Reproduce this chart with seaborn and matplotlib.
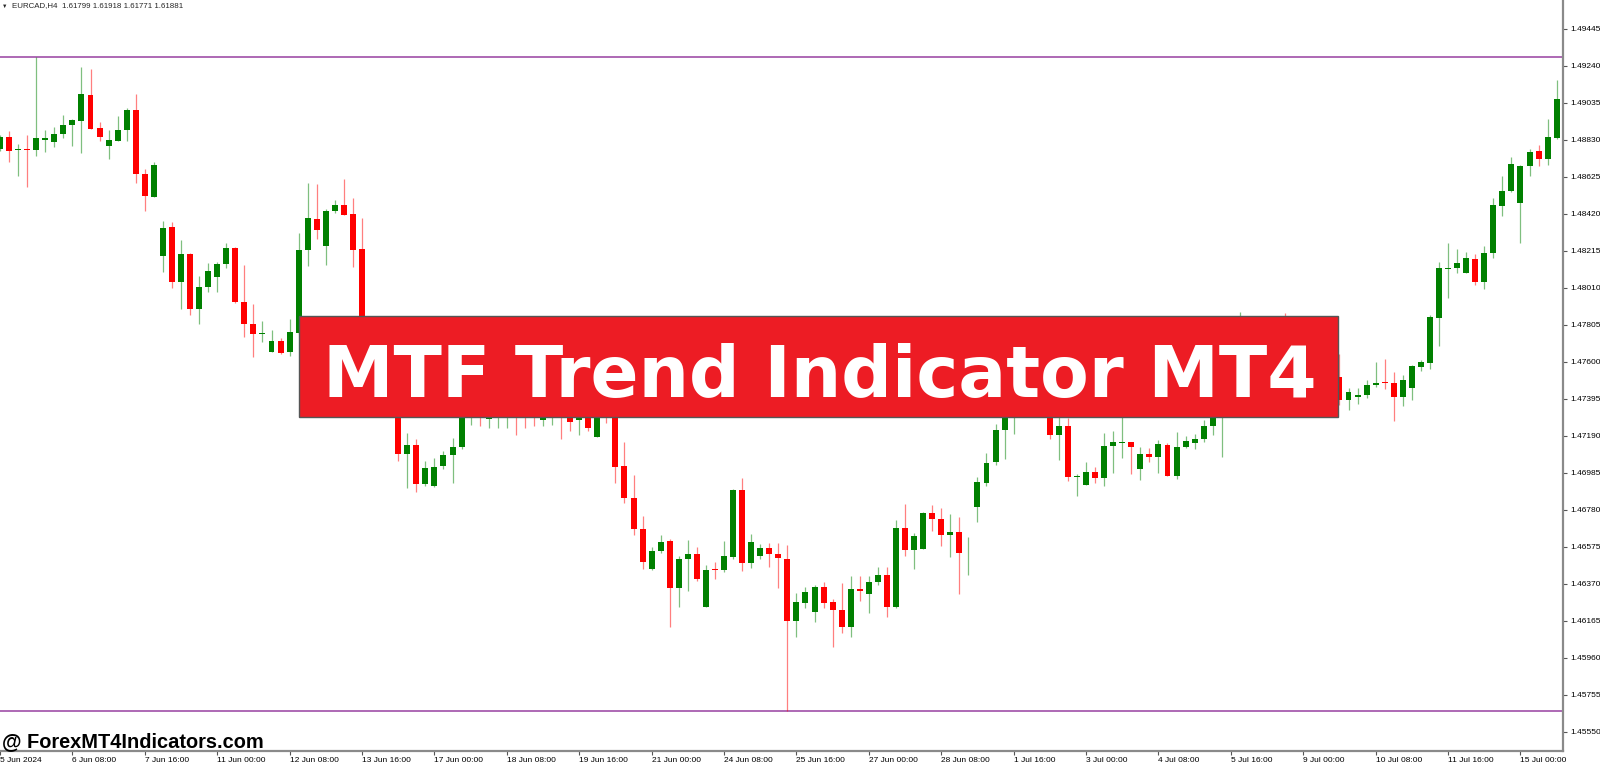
import numpy as np
import seaborn as sns
import matplotlib.pyplot as plt
from matplotlib.patches import Rectangle

# EURCAD H4, 5 Jun 2024 - 15 Jul 2024
opens = [
    1.48779, 1.48844, 1.48772, 1.48779, 1.48776, 1.48831, 1.48820, 1.48863, 1.48911, 1.48936,
    1.49077, 1.48894, 1.48798, 1.48825, 1.48883, 1.48994, 1.48643, 1.48515, 1.48187, 1.48346,
    1.48044, 1.48198, 1.47895, 1.48013, 1.48070, 1.48141, 1.48229, 1.47933, 1.47811, 1.47753,
    1.47656, 1.47716, 1.47653, 1.47762, 1.48220, 1.48392, 1.48244, 1.48434, 1.48467, 1.48418,
    1.48227, 1.47666, 1.47472, 1.47583, 1.47389, 1.47088, 1.47138, 1.46922, 1.46912, 1.47021,
    1.47086, 1.47127, 1.47322, 1.47389, 1.47283, 1.47289, 1.47333, 1.47411, 1.47389, 1.47361,
    1.47278, 1.47322, 1.47400, 1.47378, 1.47278, 1.47361, 1.47185, 1.47378, 1.47322, 1.47023,
    1.46846, 1.46674, 1.46451, 1.46552, 1.46606, 1.46347, 1.46508, 1.46537, 1.46243, 1.46452,
    1.46447, 1.46520, 1.46890, 1.46484, 1.46524, 1.46569, 1.46537, 1.46509, 1.46166, 1.46265,
    1.46216, 1.46351, 1.46268, 1.46225, 1.46131, 1.46341, 1.46312, 1.46378, 1.46421, 1.46240,
    1.46681, 1.46557, 1.46565, 1.46761, 1.46729, 1.46642, 1.46657, 1.46539, 1.46796, 1.46930,
    1.47045, 1.47222, 1.47287, 1.47400, 1.47472, 1.47416, 1.47344, 1.47195, 1.47245, 1.46964,
    1.46919, 1.46988, 1.46955, 1.47135, 1.47151, 1.47154, 1.47008, 1.47088, 1.47071, 1.47139,
    1.46969, 1.47127, 1.47152, 1.47171, 1.47246, 1.47322, 1.47389, 1.47433, 1.47583, 1.47499,
    1.47610, 1.47544, 1.47666, 1.47583, 1.47511, 1.47610, 1.47544, 1.47599, 1.47516, 1.47389,
    1.47407, 1.47415, 1.47472, 1.47485, 1.47485, 1.47404, 1.47453, 1.47573, 1.47595, 1.47845,
    1.48117, 1.48120, 1.48092, 1.48172, 1.48044, 1.48203, 1.48465, 1.48545, 1.48479, 1.48685,
    1.48767, 1.48722, 1.48842,
]
highs = [
    1.48857, 1.48879, 1.48809, 1.48857, 1.49291, 1.48885, 1.48900, 1.48966, 1.48944, 1.49235,
    1.49221, 1.48927, 1.48885, 1.48962, 1.49005, 1.49084, 1.48667, 1.48707, 1.48380, 1.48377,
    1.48273, 1.48202, 1.48076, 1.48146, 1.48152, 1.48259, 1.48238, 1.48137, 1.47921, 1.47826,
    1.47775, 1.47731, 1.47836, 1.48312, 1.48593, 1.48584, 1.48447, 1.48497, 1.48612, 1.48506,
    1.48395, 1.47693, 1.47610, 1.47621, 1.47416, 1.47207, 1.47174, 1.47049, 1.47066, 1.47106,
    1.47176, 1.47389, 1.47433, 1.47433, 1.47416, 1.47400, 1.47444, 1.47444, 1.47422, 1.47400,
    1.47389, 1.47411, 1.47433, 1.47411, 1.47400, 1.47389, 1.47400, 1.47416, 1.47378, 1.47156,
    1.46971, 1.46744, 1.46574, 1.46641, 1.46617, 1.46523, 1.46613, 1.46574, 1.46474, 1.46489,
    1.46607, 1.46897, 1.46958, 1.46644, 1.46591, 1.46595, 1.46595, 1.46585, 1.46318, 1.46351,
    1.46364, 1.46378, 1.46284, 1.46373, 1.46413, 1.46413, 1.46413, 1.46462, 1.46462, 1.46724,
    1.46811, 1.46650, 1.46766, 1.46807, 1.46792, 1.46757, 1.46739, 1.46631, 1.46964, 1.47093,
    1.47256, 1.47322, 1.47444, 1.47511, 1.47499, 1.47444, 1.47389, 1.47293, 1.47289, 1.46979,
    1.47043, 1.47016, 1.47204, 1.47217, 1.47296, 1.47156, 1.47130, 1.47121, 1.47167, 1.47149,
    1.47213, 1.47189, 1.47200, 1.47278, 1.47366, 1.47416, 1.47472, 1.47878, 1.47638, 1.47666,
    1.47693, 1.47721, 1.47869, 1.47638, 1.47655, 1.47666, 1.47638, 1.47621, 1.47644, 1.47453,
    1.47453, 1.47499, 1.47598, 1.47614, 1.47544, 1.47527, 1.47583, 1.47610, 1.47860, 1.48152,
    1.48260, 1.48225, 1.48209, 1.48196, 1.48242, 1.48506, 1.48630, 1.48735, 1.48689, 1.48778,
    1.48800, 1.48944, 1.49162,
]
lows = [
    1.48768, 1.48707, 1.48628, 1.48567, 1.48739, 1.48764, 1.48792, 1.48842, 1.48796, 1.48759,
    1.48889, 1.48825, 1.48726, 1.48822, 1.48824, 1.48589, 1.48438, 1.48512, 1.48100, 1.48011,
    1.47891, 1.47860, 1.47811, 1.47989, 1.47985, 1.48122, 1.47928, 1.47739, 1.47629, 1.47710,
    1.47655, 1.47644, 1.47634, 1.47757, 1.48133, 1.48282, 1.48137, 1.48423, 1.48412, 1.48124,
    1.47610, 1.47455, 1.47433, 1.47361, 1.47051, 1.46899, 1.46881, 1.46912, 1.46908, 1.47006,
    1.46930, 1.47117, 1.47250, 1.47245, 1.47234, 1.47234, 1.47234, 1.47195, 1.47232, 1.47245,
    1.47245, 1.47250, 1.47173, 1.47217, 1.47195, 1.47217, 1.47184, 1.47263, 1.46930, 1.46816,
    1.46641, 1.46452, 1.46449, 1.46539, 1.46129, 1.46243, 1.46332, 1.46387, 1.46241, 1.46397,
    1.46437, 1.46509, 1.46443, 1.46456, 1.46506, 1.46462, 1.46349, 1.45667, 1.46077, 1.46234,
    1.46160, 1.46234, 1.46022, 1.46096, 1.46075, 1.46277, 1.46207, 1.46364, 1.46188, 1.46234,
    1.46524, 1.46451, 1.46561, 1.46664, 1.46580, 1.46517, 1.46312, 1.46421, 1.46711, 1.46912,
    1.47028, 1.47060, 1.47199, 1.47378, 1.47389, 1.47311, 1.47173, 1.47055, 1.46941, 1.46857,
    1.46917, 1.46927, 1.46910, 1.46982, 1.47066, 1.46979, 1.46945, 1.47047, 1.46986, 1.46967,
    1.46951, 1.47121, 1.47115, 1.47158, 1.47193, 1.47074, 1.47333, 1.47400, 1.47455, 1.47472,
    1.47511, 1.47522, 1.47544, 1.47472, 1.47477, 1.47511, 1.47499, 1.47477, 1.47359, 1.47335,
    1.47365, 1.47400, 1.47462, 1.47450, 1.47274, 1.47357, 1.47389, 1.47551, 1.47559, 1.47689,
    1.47955, 1.48094, 1.48090, 1.48026, 1.48005, 1.48174, 1.48410, 1.48543, 1.48260, 1.48630,
    1.48685, 1.48689, 1.48833,
]
closes = [
    1.48844, 1.48767, 1.48778, 1.48774, 1.48840, 1.48839, 1.48863, 1.48912, 1.48942, 1.49084,
    1.48892, 1.48846, 1.48831, 1.48885, 1.48997, 1.48643, 1.48517, 1.48691, 1.48342, 1.48044,
    1.48198, 1.47895, 1.48015, 1.48102, 1.48144, 1.48229, 1.47933, 1.47810, 1.47754, 1.47758,
    1.47717, 1.47651, 1.47764, 1.48220, 1.48395, 1.48331, 1.48436, 1.48467, 1.48415, 1.48221,
    1.47666, 1.47499, 1.47583, 1.47389, 1.47088, 1.47138, 1.46925, 1.47012, 1.47019, 1.47086,
    1.47127, 1.47361, 1.47389, 1.47322, 1.47361, 1.47378, 1.47411, 1.47344, 1.47333, 1.47311,
    1.47355, 1.47389, 1.47333, 1.47268, 1.47361, 1.47232, 1.47366, 1.47322, 1.47019, 1.46844,
    1.46674, 1.46489, 1.46552, 1.46602, 1.46347, 1.46508, 1.46537, 1.46397, 1.46447, 1.46450,
    1.46524, 1.46890, 1.46484, 1.46600, 1.46569, 1.46537, 1.46512, 1.46164, 1.46268, 1.46323,
    1.46351, 1.46265, 1.46223, 1.46131, 1.46341, 1.46332, 1.46380, 1.46421, 1.46243, 1.46678,
    1.46557, 1.46635, 1.46762, 1.46728, 1.46639, 1.46656, 1.46539, 1.46543, 1.46933, 1.47041,
    1.47222, 1.47287, 1.47400, 1.47472, 1.47416, 1.47344, 1.47195, 1.47245, 1.46964, 1.46968,
    1.46988, 1.46955, 1.47135, 1.47154, 1.47154, 1.47130, 1.47088, 1.47071, 1.47143, 1.46969,
    1.47127, 1.47163, 1.47171, 1.47246, 1.47333, 1.47389, 1.47444, 1.47583, 1.47499, 1.47610,
    1.47544, 1.47666, 1.47583, 1.47511, 1.47610, 1.47544, 1.47599, 1.47516, 1.47389, 1.47433,
    1.47416, 1.47472, 1.47485, 1.47483, 1.47404, 1.47498, 1.47577, 1.47599, 1.47847, 1.48118,
    1.48120, 1.48148, 1.48175, 1.48044, 1.48203, 1.48467, 1.48547, 1.48695, 1.48685, 1.48764,
    1.48722, 1.48844, 1.49055,
]

time_labels = [
    '5 Jun 2024', '6 Jun 08:00', '7 Jun 16:00', '11 Jun 00:00', '12 Jun 08:00', '13 Jun 16:00',
    '17 Jun 00:00', '18 Jun 08:00', '19 Jun 16:00', '21 Jun 00:00', '24 Jun 08:00', '25 Jun 16:00',
    '27 Jun 00:00', '28 Jun 08:00', '1 Jul 16:00', '3 Jul 00:00', '4 Jul 08:00', '5 Jul 16:00',
    '9 Jul 00:00', '10 Jul 08:00', '11 Jul 16:00', '15 Jul 00:00',
]
price_ticks = [
    1.49445, 1.49240, 1.49035, 1.48830, 1.48625, 1.48420, 1.48215, 1.48010, 1.47805, 1.47600,
    1.47395, 1.47190, 1.46985, 1.46780, 1.46575, 1.46370, 1.46165, 1.45960, 1.45755, 1.45550,
]
header = 'EURCAD,H4  1.61799 1.61918 1.61771 1.61881'
judul = 'MTF Trend Indicator MT4'
watermark = '@ ForexMT4Indicators.com'

sns.set_theme(style='white')
plt.rcParams['font.family'] = ['Liberation Sans', 'DejaVu Sans']

o = np.array(opens)
h = np.array(highs)
l = np.array(lows)
c = np.array(closes)
x = np.arange(len(o))
warna = np.where(c >= o, '#008000', '#ff0000')

fig = plt.figure(figsize=(16, 7.63), dpi=100)
ax = fig.add_axes([0, 12 / 763, 1563 / 1600, 751 / 763])

# sumbu (wick) lalu badan candle
ax.vlines(x, l, h, colors=warna, linewidth=0.9, alpha=0.5, zorder=2)
tinggi = np.maximum(np.abs(c - o), 0.00004)
ax.bar(x, tinggi, bottom=(o + c) / 2 - tinggi / 2, width=0.66, color=warna,
       linewidth=0, zorder=3)

# garis high / low tertinggi
ax.axhline(h.max(), color='#a04fa8', linewidth=1.2, zorder=1)
ax.axhline(l.min(), color='#a04fa8', linewidth=1.2, zorder=1)

ax.set_xlim(0, 172.7)
ax.set_ylim(1.45444, 1.49605)

sns.despine(ax=ax, top=True, left=True, right=False, bottom=False)
for s in ['right', 'bottom']:
    ax.spines[s].set_color('#8a8a8a')
    ax.spines[s].set_linewidth(1.6)

ax.yaxis.tick_right()
ax.set_yticks(price_ticks)
ax.set_yticklabels([f'{v:.5f}' for v in price_ticks])
ax.tick_params(axis='y', right=True, left=False, direction='out', length=3, width=0.8,
               color='#555555', labelcolor='black', labelsize=6, pad=2)

ax.set_xticks(np.arange(0, 8 * len(time_labels), 8))
ax.set_xticklabels(time_labels, ha='left')
ax.tick_params(axis='x', bottom=True, direction='out', length=3, width=0.8,
               color='#555555', labelcolor='black', labelsize=6, pad=1)

# teks kiri atas
fig.text(2 / 1600, 1 - 6 / 763, '\u25bc', fontsize=4, va='center', ha='left')
fig.text(11.7 / 1600, 1 - 6 / 763, header, fontsize=5.7, va='center', ha='left')

# banner judul
banner = Rectangle((299 / 1600, 0.4539), (1338 - 299) / 1600, 0.1313,
                   transform=fig.transFigure, facecolor='#ed1c24',
                   edgecolor='#555555', linewidth=1, zorder=5)
fig.add_artist(banner)
fig.text(819.5 / 1600, 366 / 763, judul, fontsize=51, fontweight='bold',
         family=['DejaVu Sans'], color='white', ha='center', va='baseline', zorder=6)

fig.text(2 / 1600, 16 / 763, watermark, fontsize=14.4, fontweight='bold',
         color='black', ha='left', va='baseline', zorder=6)

plt.savefig('out.png', dpi=100)
